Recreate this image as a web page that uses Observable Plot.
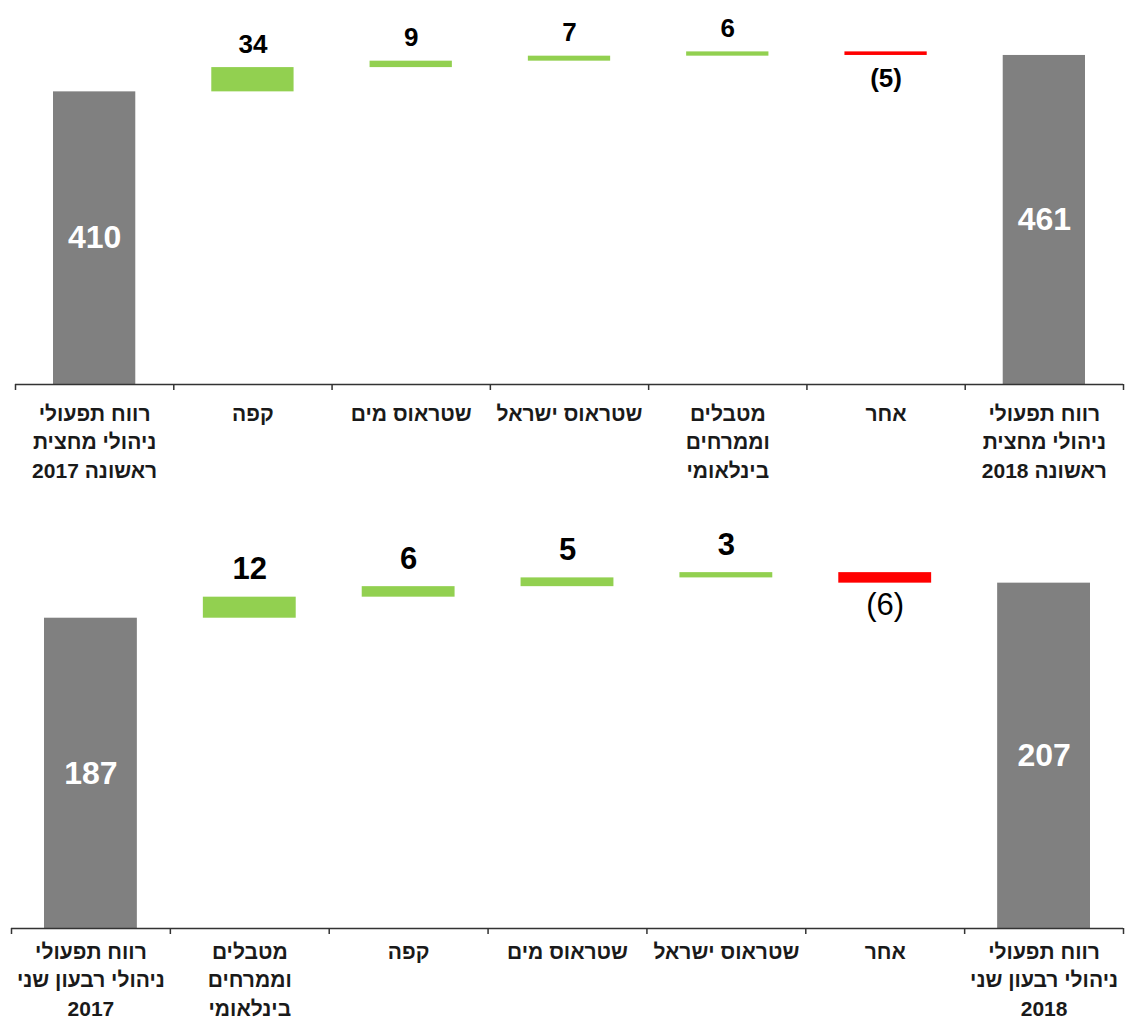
<!DOCTYPE html>
<html>
<head>
<meta charset="utf-8">
<script src="https://cdn.jsdelivr.net/npm/d3@7"></script>
<script src="https://cdn.jsdelivr.net/npm/@observablehq/plot@0.6"></script>
<style>
  html, body { margin: 0; padding: 0; background: #ffffff; }
  #root { width: 1125px; }
  #root svg { display: block; }
</style>
</head>
<body>
<div id="root"></div>
<script>
// ---- Data: top chart (first half) ----
const topCategories = [
  "רווח תפעולי\nניהולי מחצית\nראשונה 2017",
  "קפה",
  "שטראוס מים",
  "שטראוס ישראל",
  "מטבלים\nוממרחים\nבינלאומי",
  "אחר",
  "רווח תפעולי\nניהולי מחצית\nראשונה 2018"
];
const topValues = [410, 34, 9, 7, 6, -5, 461];
const topKinds = ["total", "delta", "delta", "delta", "delta", "delta", "total"];

// ---- Data: bottom chart (second quarter) ----
const bottomCategories = [
  "רווח תפעולי\nניהולי רבעון שני\n2017",
  "מטבלים\nוממרחים\nבינלאומי",
  "קפה",
  "שטראוס מים",
  "שטראוס ישראל",
  "אחר",
  "רווח תפעולי\nניהולי רבעון שני\n2018"
];
const bottomValues = [187, 12, 6, 5, 3, -6, 207];
const bottomKinds = ["total", "delta", "delta", "delta", "delta", "delta", "total"];

const GRAY = "#808080", GREEN = "#92D050", RED = "#FF0000";
const FONT = "'Liberation Sans', Arial, Helvetica, sans-serif";

function waterfall(values, kinds, base) {
  let running = 0;
  return values.map((v, i) => {
    let lo, hi, color, label;
    if (kinds[i] === "total") {
      lo = 0; hi = v; running = v; color = GRAY; label = String(v);
    } else {
      const start = running, end = running + v;
      running = end;
      lo = Math.min(start, end); hi = Math.max(start, end);
      color = v >= 0 ? GREEN : RED;
      label = v >= 0 ? String(v) : `(${-v})`;
    }
    return {i, value: v, kind: kinds[i], lo, hi, color, label,
            mid: (Math.max(lo, base) + hi) / 2};
  });
}

function chart(o) {
  const base = o.yDomain[0];
  const rows = waterfall(o.values, o.kinds, base);
  const n = o.categories.length;
  const edges = d3.range(n + 1).map(i => i - 0.5);
  const totals = rows.filter(d => d.kind === "total");
  const pos = rows.filter(d => d.kind === "delta" && d.value >= 0);
  const neg = rows.filter(d => d.kind === "delta" && d.value < 0);
  return Plot.plot({
    width: 1125,
    height: o.height,
    marginTop: 0,
    marginLeft: o.marginLeft,
    marginRight: o.marginRight,
    marginBottom: o.marginBottom,
    style: {fontFamily: FONT, background: "#ffffff", overflow: "visible"},
    x: {domain: [-0.5, n - 0.5], axis: null},
    y: {domain: o.yDomain, axis: null},
    color: {type: "identity"},
    marks: [
      Plot.rectY(rows, {
        x1: d => d.i - 0.5, x2: d => d.i + 0.5,
        y1: "lo", y2: "hi", fill: "color",
        insetLeft: o.barInset, insetRight: o.barInset, clip: true
      }),
      Plot.ruleY([base], {stroke: "#333333", strokeWidth: 1.5}),
      Plot.axisX({ticks: edges, tickSize: 6, tickFormat: () => "", color: "#333333", strokeWidth: 1.5, label: null}),
      Plot.axisX({
        ticks: d3.range(n), tickSize: 0, tickPadding: o.labelPad,
        tickFormat: i => o.categories[i], label: null,
        fontSize: 21, fontWeight: "bold", lineHeight: 1.36, color: "#1a1a1a"
      }),
      Plot.text(totals, {
        x: "i", y: "mid", text: "label", lineAnchor: "middle",
        fill: "#ffffff", fontSize: 32, fontWeight: "bold"
      }),
      Plot.text(pos, {
        x: "i", y: "hi", text: "label", lineAnchor: "bottom", dy: -o.posGap,
        fill: "#000000", fontSize: o.deltaFont, fontWeight: "bold"
      }),
      Plot.text(neg, {
        x: "i", y: "lo", text: "label", lineAnchor: "top", dy: o.negGap,
        fill: "#000000", fontSize: o.deltaFont, fontWeight: o.negWeight
      })
    ]
  });
}

const root = document.getElementById("root");
root.appendChild(chart({
  categories: topCategories, values: topValues, kinds: topKinds,
  height: 495, marginLeft: 15, marginRight: 2, marginBottom: 111, labelPad: 16,
  yDomain: [0, 538], barInset: 38, deltaFont: 26, posGap: 15, negGap: 13, negWeight: "bold"
}));
root.appendChild(chart({
  categories: bottomCategories, values: bottomValues, kinds: bottomKinds,
  height: 524, marginLeft: 11, marginRight: 2, marginBottom: 91, labelPad: 10,
  yDomain: [10, 257], barInset: 33, deltaFont: 31, posGap: 18, negGap: 10, negWeight: "normal"
}));
</script>
</body>
</html>
